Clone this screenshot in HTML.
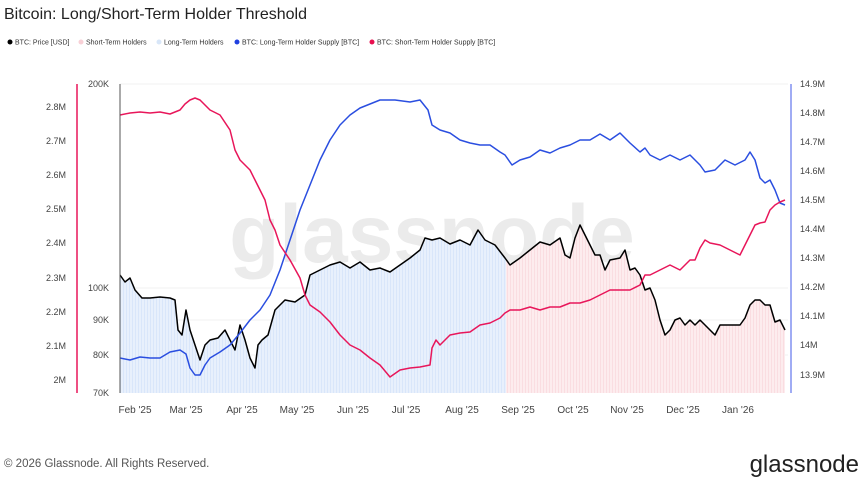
<!DOCTYPE html><html><head><style>body{margin:0;background:#fff;font-family:"Liberation Sans",sans-serif}</style></head><body>
<svg width="867" height="486" viewBox="0 0 867 486" xmlns="http://www.w3.org/2000/svg" font-family="Liberation Sans, sans-serif">
<text x="4" y="19" font-size="16" fill="#222">Bitcoin: Long/Short-Term Holder Threshold</text>
<g font-size="7" fill="#333">
<circle cx="10" cy="42" r="2.5" fill="#000"/><text x="15" y="44.5">BTC: Price [USD]</text>
<circle cx="81" cy="42" r="2.5" fill="#f8d0d6"/><text x="86" y="44.5">Short-Term Holders</text>
<circle cx="159" cy="42" r="2.5" fill="#d8e6f8"/><text x="164" y="44.5">Long-Term Holders</text>
<circle cx="237" cy="42" r="2.5" fill="#2040e0"/><text x="242" y="44.5">BTC: Long-Term Holder Supply [BTC]</text>
<circle cx="372" cy="42" r="2.5" fill="#e8104f"/><text x="377" y="44.5">BTC: Short-Term Holder Supply [BTC]</text>
</g>
<defs>
<clipPath id="cb"><rect x="120" y="80" width="386" height="320"/></clipPath>
<clipPath id="cp"><rect x="506" y="80" width="282" height="320"/></clipPath>
<pattern id="vl" width="3" height="10" patternUnits="userSpaceOnUse"><rect width="3" height="10" fill="#e8f0fc"/><rect width="1" height="10" fill="#d9e6fa"/></pattern>
<pattern id="vp" width="3" height="10" patternUnits="userSpaceOnUse"><rect width="3" height="10" fill="#fdecee"/><rect width="1" height="10" fill="#fadde1"/></pattern>
</defs>
<g stroke="#f2f2f2" stroke-width="1">
<line x1="120" y1="84" x2="788" y2="84"/><line x1="120" y1="288" x2="788" y2="288"/><line x1="120" y1="320" x2="788" y2="320"/><line x1="120" y1="355" x2="788" y2="355"/>
</g>
<text x="432" y="262" font-size="82" fill="#ebebeb" text-anchor="middle" font-weight="bold">glassnode</text>
<g id="fill">
<polygon clip-path="url(#cb)" fill="url(#vl)" points="120,393 120,275 125,282 130,278 135,290 142,298 150,298 160,297 170,298 175,300 178,330 182,335 186,310 190,330 195,345 200,360 205,345 210,340 218,338 225,330 230,340 235,350 240,325 245,340 250,358 255,368 258,345 262,340 268,335 275,310 285,300 295,302 305,295 310,275 320,270 330,265 340,262 350,268 360,262 370,270 380,268 390,272 400,265 410,258 420,250 425,238 432,240 440,238 450,244 460,240 470,245 478,230 485,240 495,245 505,258 510,265 520,258 530,250 540,242 550,245 560,238 565,255 570,258 575,238 580,225 585,235 590,245 595,255 600,255 605,270 610,260 620,258 625,250 630,270 635,268 640,275 645,290 650,288 655,300 660,320 665,335 670,330 675,320 680,318 685,325 690,320 695,325 700,320 705,325 710,330 715,335 720,325 730,325 740,325 745,318 750,305 755,300 760,300 765,305 770,305 775,322 780,320 785,330 785,393"/>
<polygon clip-path="url(#cp)" fill="url(#vp)" points="120,393 120,275 125,282 130,278 135,290 142,298 150,298 160,297 170,298 175,300 178,330 182,335 186,310 190,330 195,345 200,360 205,345 210,340 218,338 225,330 230,340 235,350 240,325 245,340 250,358 255,368 258,345 262,340 268,335 275,310 285,300 295,302 305,295 310,275 320,270 330,265 340,262 350,268 360,262 370,270 380,268 390,272 400,265 410,258 420,250 425,238 432,240 440,238 450,244 460,240 470,245 478,230 485,240 495,245 505,258 510,265 520,258 530,250 540,242 550,245 560,238 565,255 570,258 575,238 580,225 585,235 590,245 595,255 600,255 605,270 610,260 620,258 625,250 630,270 635,268 640,275 645,290 650,288 655,300 660,320 665,335 670,330 675,320 680,318 685,325 690,320 695,325 700,320 705,325 710,330 715,335 720,325 730,325 740,325 745,318 750,305 755,300 760,300 765,305 770,305 775,322 780,320 785,330 785,393"/>
</g>
<g fill="none" stroke-width="1.5" stroke-linejoin="round">
<polyline stroke="#000" points="120,275 125,282 130,278 135,290 142,298 150,298 160,297 170,298 175,300 178,330 182,335 186,310 190,330 195,345 200,360 205,345 210,340 218,338 225,330 230,340 235,350 240,325 245,340 250,358 255,368 258,345 262,340 268,335 275,310 285,300 295,302 305,295 310,275 320,270 330,265 340,262 350,268 360,262 370,270 380,268 390,272 400,265 410,258 420,250 425,238 432,240 440,238 450,244 460,240 470,245 478,230 485,240 495,245 505,258 510,265 520,258 530,250 540,242 550,245 560,238 565,255 570,258 575,238 580,225 585,235 590,245 595,255 600,255 605,270 610,260 620,258 625,250 630,270 635,268 640,275 645,290 650,288 655,300 660,320 665,335 670,330 675,320 680,318 685,325 690,320 695,325 700,320 705,325 710,330 715,335 720,325 730,325 740,325 745,318 750,305 755,300 760,300 765,305 770,305 775,322 780,320 785,330"/>
<polyline stroke="#2a4ee0" points="120,358 130,360 140,357 150,358 160,358 170,352 180,350 186,354 190,368 195,375 200,375 205,365 210,358 220,352 230,345 240,333 250,320 260,310 270,295 280,270 290,240 300,210 310,185 320,160 330,140 340,125 350,115 360,108 370,104 380,100 395,100 410,102 420,100 428,110 432,125 440,130 450,133 460,140 470,143 480,145 490,145 500,152 505,155 512,165 520,160 530,157 540,150 550,153 560,148 570,145 580,140 590,140 600,134 610,140 620,133 630,143 640,152 645,148 650,155 660,160 670,155 680,160 690,155 700,165 705,172 715,170 725,160 735,165 745,160 750,152 755,160 760,178 765,183 770,180 775,190 780,203 785,205"/>
<polyline stroke="#e8165a" points="120,115 130,113 140,112 150,113 160,112 170,114 180,110 185,104 190,100 195,98 200,100 205,105 210,110 220,115 230,130 235,150 240,160 250,170 255,180 260,190 265,200 270,220 275,230 280,245 290,260 300,278 305,295 310,305 320,312 330,322 340,335 350,345 360,350 370,358 380,365 390,377 400,370 410,368 420,367 430,365 432,348 436,340 440,345 450,335 460,333 470,332 480,325 490,323 500,318 505,313 510,310 520,310 530,307 540,310 550,307 560,307 570,303 580,303 590,300 600,295 610,290 620,290 630,290 640,285 645,275 650,275 660,270 670,265 680,270 690,260 695,260 700,248 705,240 710,243 720,245 730,250 740,255 745,245 750,235 755,225 760,223 765,222 770,210 775,205 780,202 785,200"/>
</g>
<line x1="120" y1="84" x2="120" y2="393" stroke="#555" stroke-width="1"/>
<line x1="77" y1="84" x2="77" y2="393" stroke="#e8165a" stroke-width="1.5"/>
<line x1="791" y1="84" x2="791" y2="393" stroke="#8090f0" stroke-width="1.5"/>
<g font-size="9" fill="#444">
<g text-anchor="end"><text x="66" y="110">2.8M</text><text x="66" y="144">2.7M</text><text x="66" y="178">2.6M</text><text x="66" y="212">2.5M</text><text x="66" y="246">2.4M</text><text x="66" y="281">2.3M</text><text x="66" y="315">2.2M</text><text x="66" y="349">2.1M</text><text x="66" y="383">2M</text>
<text x="109" y="87">200K</text><text x="109" y="291">100K</text><text x="109" y="323">90K</text><text x="109" y="358">80K</text><text x="109" y="396">70K</text></g>
<text x="800" y="87">14.9M</text><text x="800" y="116">14.8M</text><text x="800" y="145">14.7M</text><text x="800" y="174">14.6M</text><text x="800" y="203">14.5M</text><text x="800" y="232">14.4M</text><text x="800" y="261">14.3M</text><text x="800" y="290">14.2M</text><text x="800" y="319">14.1M</text><text x="800" y="348">14M</text><text x="800" y="378">13.9M</text>
<g text-anchor="middle" font-size="10"><text x="135" y="413">Feb '25</text><text x="186" y="413">Mar '25</text><text x="242" y="413">Apr '25</text><text x="297" y="413">May '25</text><text x="353" y="413">Jun '25</text><text x="406" y="413">Jul '25</text><text x="462" y="413">Aug '25</text><text x="518" y="413">Sep '25</text><text x="573" y="413">Oct '25</text><text x="627" y="413">Nov '25</text><text x="683" y="413">Dec '25</text><text x="738" y="413">Jan '26</text></g>
</g>
<text x="4" y="467" font-size="11.5" fill="#555">© 2026 Glassnode. All Rights Reserved.</text>
<text x="859" y="472" font-size="24" fill="#222" text-anchor="end">glassnode</text>
</svg></body></html>
